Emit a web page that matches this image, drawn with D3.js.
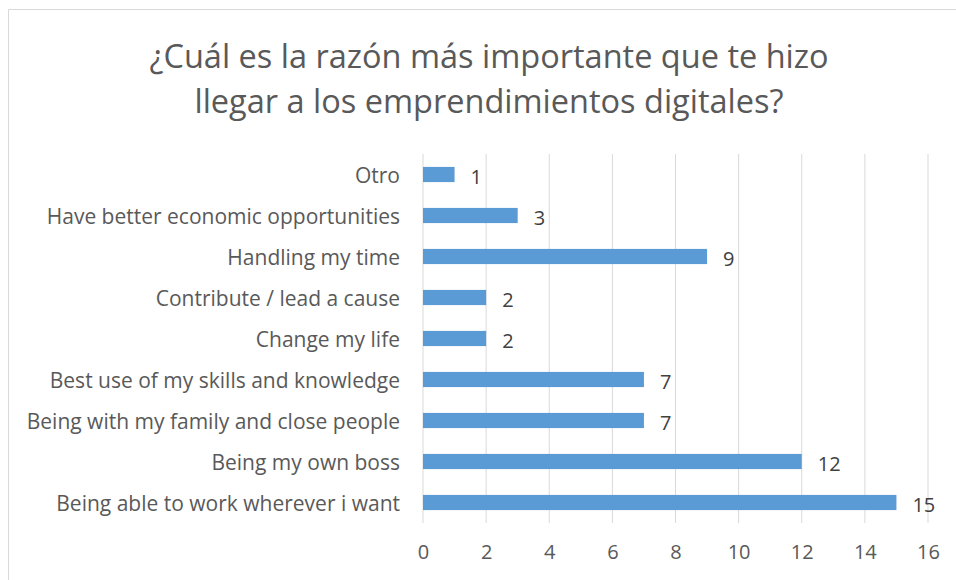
<!DOCTYPE html>
<html>
<head>
    <meta charset="utf-8">
    <title></title>
    <script src="https://d3js.org/d3.v7.min.js"></script>
    <style>
        body { margin: 0; background: #fff; }
        svg { display: block; font-family: "Open Sans", sans-serif; }
    </style>
</head>
<body>
    <svg id="chart"></svg>
    <script>
        var categories = [
            'Otro',
            'Have better economic opportunities',
            'Handling my time',
            'Contribute / lead a cause',
            'Change my life',
            'Best use of my skills and knowledge',
            'Being with my family and close people',
            'Being my own boss',
            'Being able to work wherever i want'
        ];
        var values = [1, 3, 9, 2, 2, 7, 7, 12, 15];
        var ticks = [0, 2, 4, 6, 8, 10, 12, 14, 16];
        var titleLines = ['¿Cuál es la razón más importante que te hizo', 'llegar a los emprendimientos digitales?'];

        var data = categories.map(function(c, i) { return { label: c, value: values[i] }; });

        var width = 956;
        var height = 580;
        var margin = { top: 154, right: 28, bottom: 57, left: 423 };
        var innerWidth = width - margin.left - margin.right;
        var innerHeight = height - margin.top - margin.bottom;

        var svg = d3.select('#chart')
            .attr('width', width)
            .attr('height', height);

        // chart frame (top and left edges; the rest runs off the picture)
        svg.append('path')
            .attr('d', 'M8.5,' + height + 'V9.5H' + width)
            .attr('fill', 'none')
            .attr('stroke', '#d9d9d9');

        svg.append('g')
            .selectAll('text')
            .data(titleLines)
            .enter()
            .append('text')
            .attr('x', 489)
            .attr('y', function(d, i) { return 68 + i * 45; })
            .attr('text-anchor', 'middle')
            .style('font-size', '32.5px')
            .style('fill', '#595959')
            .text(function(d) { return d; });

        var xScale = d3.scaleLinear()
            .domain([0, 16])
            .range([0, innerWidth]);

        var yScale = d3.scaleBand()
            .domain(categories)
            .range([0, innerHeight])
            .paddingInner(0.63)
            .paddingOuter(0.315);

        var chart = svg.append('g')
            .attr('transform', 'translate(' + margin.left + ',' + margin.top + ')');

        // vertical gridlines
        chart.append('g')
            .selectAll('line')
            .data(ticks)
            .enter()
            .append('line')
            .attr('x1', function(d) { return xScale(d); })
            .attr('x2', function(d) { return xScale(d); })
            .attr('y1', 0)
            .attr('y2', innerHeight)
            .attr('stroke', '#d9d9d9')
            .attr('stroke-width', 1);

        var xAxis = chart.append('g')
            .attr('transform', 'translate(0,' + innerHeight + ')')
            .call(d3.axisBottom(xScale).tickValues(ticks).tickSize(0).tickPadding(22));
        xAxis.select('.domain').remove();
        xAxis.selectAll('text')
            .style('font-family', '"Open Sans", sans-serif')
            .style('font-size', '20px')
            .style('fill', '#595959');

        var yAxis = chart.append('g')
            .call(d3.axisLeft(yScale).tickSize(0).tickPadding(23));
        yAxis.select('.domain').remove();
        yAxis.selectAll('text')
            .attr('dy', '0.4em')
            .style('font-family', '"Open Sans", sans-serif')
            .style('font-size', '21px')
            .style('fill', '#595959');

        chart.selectAll('rect.bar')
            .data(data)
            .enter()
            .append('rect')
            .attr('class', 'bar')
            .attr('x', 0)
            .attr('y', function(d) { return yScale(d.label); })
            .attr('width', function(d) { return xScale(d.value); })
            .attr('height', yScale.bandwidth())
            .attr('fill', '#5b9bd5');

        chart.selectAll('text.val')
            .data(data)
            .enter()
            .append('text')
            .attr('class', 'val')
            .attr('x', function(d) { return xScale(d.value) + 16; })
            .attr('y', function(d) { return yScale(d.label) + yScale.bandwidth() / 2; })
            .attr('dy', '0.45em')
            .style('font-size', '20px')
            .style('fill', '#404040')
            .text(function(d) { return d.value; });
    </script>
</body>
</html>
